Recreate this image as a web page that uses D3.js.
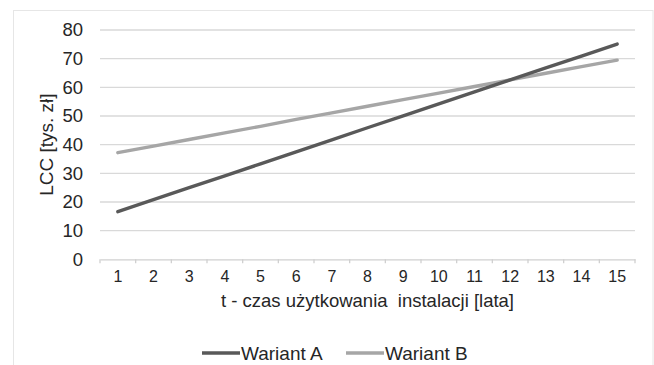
<!DOCTYPE html>
<html><head><meta charset="utf-8">
<script src="https://cdn.jsdelivr.net/npm/d3@7"></script>
<style>
body{margin:0;background:#fff;}
svg{display:block;font-family:"Liberation Sans",Arial,sans-serif;}
</style></head>
<body><svg id="c" width="654" height="365"></svg>
<script>
const years = [1,2,3,4,5,6,7,8,9,10,11,12,13,14,15];
const wariantA = [16.6,20.8,25.0,29.1,33.3,37.5,41.7,45.9,50.0,54.2,58.4,62.6,66.8,70.9,75.1];
const wariantB = [37.2,39.5,41.8,44.1,46.4,48.8,51.1,53.4,55.7,58.0,60.3,62.6,64.9,67.2,69.5];
const yTicks = [0,10,20,30,40,50,60,70,80];
const seriesNames = ["Wariant A","Wariant B"];
const seriesColors = ["#595959","#a6a6a6"];
const xTitle = "t - czas użytkowania  instalacji [lata]";
const yTitle = "LCC [tys. zł]";

const svg = d3.select("#c");
const m = {l:100, r:635, t:30, b:259.3};
const txt = "#262626";

// outer border
svg.append("rect").attr("x",13.5).attr("y",10.5).attr("width",639.5).attr("height",370)
  .attr("fill","none").attr("stroke","#e6e6e6");

const x = d3.scaleBand().domain(years).range([m.l,m.r]);
const y = d3.scaleLinear().domain([0,80]).range([m.b,m.t]);

// gridlines
svg.append("g").selectAll("line").data(yTicks.filter(d=>d>0)).join("line")
  .attr("x1",m.l).attr("x2",m.r).attr("y1",d=>y(d)).attr("y2",d=>y(d))
  .attr("stroke","#d9d9d9").attr("stroke-width",1.3);

// y axis labels
const ya = svg.append("g").attr("transform",`translate(${m.l},0)`)
  .call(d3.axisLeft(y).tickValues(yTicks).tickSize(0).tickPadding(17));
ya.select(".domain").remove();
ya.selectAll("text").attr("font-size",18.5).attr("fill",txt).attr("font-family","Liberation Sans, Arial, sans-serif");

// x axis
const xa = svg.append("g").attr("transform",`translate(0,${m.b})`)
  .call(d3.axisBottom(x).tickSize(0).tickPadding(11));
xa.select(".domain").attr("stroke","#d0d0d0").attr("stroke-width",1.3);
xa.selectAll("text").attr("font-size",16).attr("fill",txt).attr("font-family","Liberation Sans, Arial, sans-serif");
// tick marks at band boundaries
const bounds = years.map(d=>x(d)).concat([m.r]);
svg.append("g").selectAll("line").data(bounds).join("line")
  .attr("x1",d=>d).attr("x2",d=>d).attr("y1",m.b).attr("y2",m.b+4)
  .attr("stroke","#d0d0d0").attr("stroke-width",1.3);

// lines
const line = d3.line().x((d,i)=>x(years[i])+x.bandwidth()/2).y(d=>y(d));
[wariantB, wariantA].forEach((s,k)=>{
  const idx = k===0?1:0;
  svg.append("path").datum(s).attr("d",line).attr("fill","none")
    .attr("stroke",seriesColors[idx]).attr("stroke-width",3.4).attr("stroke-linecap","round");
});

// axis titles
svg.append("text").attr("x",(m.l+m.r)/2).attr("y",307).attr("text-anchor","middle")
  .attr("font-size",18.5).attr("fill",txt).style("white-space","pre").text(xTitle);
svg.append("text").attr("transform",`translate(53,${(m.t+m.b)/2}) rotate(-90)`)
  .attr("text-anchor","middle").attr("font-size",19).attr("fill",txt).text(yTitle);

// legend
const leg = [{x:202},{x:346}];
leg.forEach((l,i)=>{
  svg.append("line").attr("x1",l.x).attr("x2",l.x+38).attr("y1",353).attr("y2",353)
    .attr("stroke",seriesColors[i]).attr("stroke-width",3.4);
  svg.append("text").attr("x",l.x+39).attr("y",359.5).attr("font-size",19).attr("fill",txt).text(seriesNames[i]);
});
</script></body></html>
